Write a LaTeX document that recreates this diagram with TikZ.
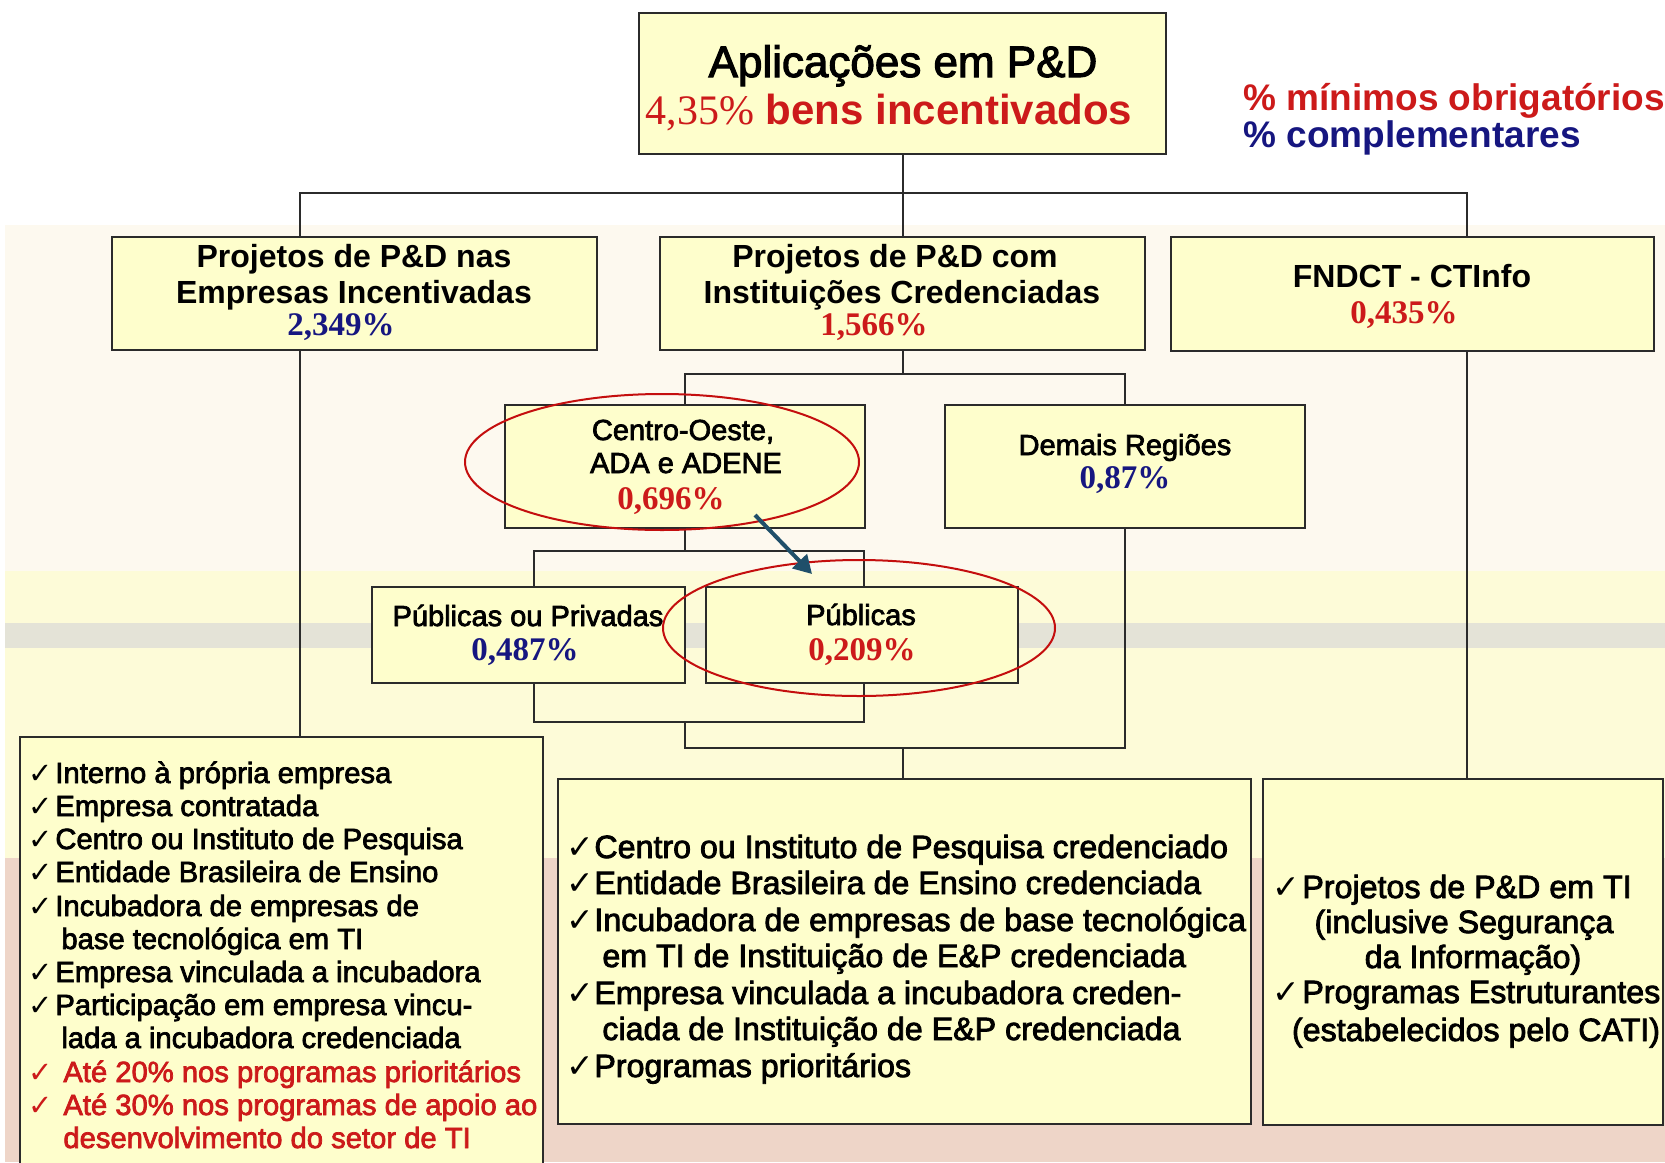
\documentclass[tikz,border=0pt]{standalone}
\usepackage{fontspec}
\setmainfont{Liberation Sans}
\newfontfamily\serf{Liberation Serif}
\newfontfamily\chkf{DejaVu Sans}
\newfontfamily\hvy[FakeBold=2.5]{Liberation Sans}
\usetikzlibrary{arrows.meta,shapes.geometric}
\definecolor{bgcream}{HTML}{FDF9EF}
\definecolor{bgyel}{HTML}{FDFBD8}
\definecolor{bggrey}{HTML}{E4E3D7}
\definecolor{bgpink}{HTML}{EED5C8}
\definecolor{boxfill}{HTML}{FEFECC}
\definecolor{boxline}{HTML}{2B2B2B}
\definecolor{pred}{HTML}{CC1A1A}
\definecolor{pblue}{HTML}{161680}
\definecolor{ellred}{HTML}{C40E0E}
\definecolor{arrcol}{HTML}{1F4F6A}
\begin{document}
\begin{tikzpicture}[x=0.5pt,y=-0.5pt,
  box/.style={draw=boxline, fill=boxfill, line width=1pt, inner sep=0pt},
  wh/.style 2 args={minimum width=#1*0.5pt, minimum height=#2*0.5pt},
  conn/.style={draw=boxline, line width=1pt},
  txt/.style={inner sep=0pt, anchor=base},
  ltxt/.style={inner sep=0pt, anchor=base west},
  head/.style={font=\bfseries\fontsize{16}{19}\selectfont},
  mid/.style={font=\hvy\fontsize{14.5}{17}\selectfont},
  pct/.style={font=\serf\bfseries\fontsize{16.5}{19}\selectfont},
  listL/.style={font=\hvy\fontsize{14.6}{18}\selectfont},
  listM/.style={font=\hvy\fontsize{16.1}{19}\selectfont},
  ell/.style={draw=ellred, line width=1pt, ellipse, inner sep=0pt},
  arr/.style={draw=arrcol, line width=2pt, -{Triangle[length=9pt,width=10pt]}}
]
\useasboundingbox (0,0) rectangle (1665,1162);
% background bands
\fill[white] (0,0) rectangle (1665,1162);
\fill[bgcream] (5,225) rectangle (1665,571);
\fill[bgyel] (5,571) rectangle (1665,858);
\fill[bggrey] (5,623) rectangle (1665,648);
\fill[bgpink] (5,858) rectangle (1665,1162);

% boxes
\node[box, wh={527}{141}] (top) at (902.5,83.5) {};
\node[box, wh={485}{113}] (lft) at (354.5,293.5) {};
\node[box, wh={485}{113}] (mdl) at (902.5,293.5) {};
\node[box, wh={483}{114}] (rgt) at (1412.5,294) {};
\node[box, wh={360}{123}] (co) at (685,466.5) {};
\node[box, wh={360}{123}] (dem) at (1125,466.5) {};
\node[box, wh={313}{96}] (pop) at (528.5,635) {};
\node[box, wh={312}{96}] (pub) at (862,635) {};
\node[box, wh={523}{448}] (lb) at (281.5,961) {};
\node[box, wh={693}{345}] (mb) at (904.5,951.5) {};
\node[box, wh={400}{346}] (rb) at (1463,952) {};

% connector coordinates
\coordinate (hL) at (300,193);
\coordinate (hR) at (1467,193);
\coordinate (j2) at (902.5,374);
\coordinate (j3) at (685,551);
\coordinate (pL) at (534,551);
\coordinate (pR) at (864,551);
\coordinate (k3) at (685,722);
\coordinate (k4) at (903,748);

\draw[conn] (top.south) -- (top.south |- hL);
\draw[conn] (hL |- lft.north) -- (hL) -- (hR) -- (hR |- rgt.north);
\draw[conn] (top.south |- hL) -- (mdl.north);
\draw[conn] (hL |- lft.south) -- (hL |- lb.north);
\draw[conn] (hR |- rgt.south) -- (hR |- rb.north);
\draw[conn] (mdl.south) -- (j2);
\draw[conn] (co.north) |- (j2) -| (dem.north);
\draw[conn] (co.south) -- (j3);
\draw[conn] (pL |- pop.north) -- (pL) -- (pR) -- (pR |- pub.north);
\draw[conn] (pL |- pop.south) -- (pL |- k3) -- (pR |- k3) -- (pR |- pub.south);
\draw[conn] (k3) |- (dem.south |- k4) -- (dem.south);
\draw[conn] (k4) -- (k4 |- mb.north);

% top box text
\node[txt, font=\hvy\fontsize{22}{26}\selectfont] (t1) at (903,77) {Aplicações em P\&D};
\node[txt, font=\fontsize{21}{25}\selectfont, text=pred] (t2) at (889,124)
  {{\serf 4,35\%}\ \textbf{bens incentivados}};
% legend
\node[ltxt, font=\bfseries\fontsize{18.5}{22}\selectfont, text=pred] (lg1) at (1243,110) {\% mínimos obrigatórios};
\node[ltxt, font=\bfseries\fontsize{18.5}{22}\selectfont, text=pblue] (lg2) at (1243,147) {\% complementares};

% level 2 texts
\node[txt, head] (l1) at (354,267) {Projetos de P\&D nas};
\node[txt, head] (l2) at (354,303) {Empresas Incentivadas};
\node[txt, pct, text=pblue] (l3) at (341,335) {2,349\%};
\node[txt, head] (m1) at (895,267) {Projetos de P\&D com};
\node[txt, head] (m2) at (902,303) {Instituições Credenciadas};
\node[txt, pct, text=pred] (m3) at (874,335) {1,566\%};
\node[txt, head] (r1) at (1412,287) {FNDCT - CTInfo};
\node[txt, pct, text=pred] (r2) at (1404,323) {0,435\%};

% level 3 texts
\node[txt, mid] (c1) at (683,440) {Centro-Oeste,};
\node[txt, mid] (c2) at (686,473) {ADA e ADENE};
\node[txt, pct, text=pred] (c3) at (671,509) {0,696\%};
\node[txt, mid] (d1) at (1125,455) {Demais Regiões};
\node[txt, pct, text=pblue] (d2) at (1125,488) {0,87\%};
\node[txt, mid] (p1) at (528,626) {Públicas ou Privadas};
\node[txt, pct, text=pblue] (p2) at (525,660) {0,487\%};
\node[txt, mid] (q1) at (861,625) {Públicas};
\node[txt, pct, text=pred] (q2) at (862,660) {0,209\%};

% highlight ellipses and arrow
\node[ell, wh={394}{136}] (e1) at (662,462) {};
\node[ell, wh={392}{136}] (e2) at (859,628) {};
\coordinate (a1) at (755,515);
\coordinate (a2) at (812,574);
\draw[arr] (a1) -- (a2);

% left list
\foreach \ly/\lx/\lt [count=\i] in {
  783/55/{Interno à própria empresa},
  816/55/{Empresa contratada},
  849/55/{Centro ou Instituto de Pesquisa},
  882/55/{Entidade Brasileira de Ensino},
  916/55/{Incubadora de empresas de},
  949/61/{base tecnológica em TI},
  982/55/{Empresa vinculada a incubadora},
  1015/55/{Participação em empresa vincu-},
  1048/61/{lada a incubadora credenciada}}
  \node[ltxt, listL] (lt\i) at (\lx,\ly) {\lt};
\foreach \ly/\lt [count=\i] in {
  1082/{Até 20\% nos programas prioritários},
  1115/{Até 30\% nos programas de apoio ao},
  1148/{desenvolvimento do setor de TI}}
  \node[ltxt, listL, text=pred] (lr\i) at (63,\ly) {\lt};
\foreach \ly [count=\i] in {783,816,849,882,916,982,1015}
  \node[ltxt, font=\chkf\fontsize{14.5}{16}\selectfont] (lc\i) at (28,\ly) {✓};
\foreach \ly [count=\i] in {1082,1115}
  \node[ltxt, font=\chkf\fontsize{14.5}{16}\selectfont, text=pred] (lrc\i) at (28,\ly) {✓};

% middle list
\foreach \ly/\lx/\lt [count=\i] in {
  858/594/{Centro ou Instituto de Pesquisa credenciado},
  894/594/{Entidade Brasileira de Ensino credenciada},
  931/594/{Incubadora de empresas de base tecnológica},
  967/602/{em TI de Instituição de E\&P credenciada},
  1004/594/{Empresa vinculada a incubadora creden-},
  1040/602/{ciada de Instituição de E\&P credenciada},
  1077/594/{Programas prioritários}}
  \node[ltxt, listM] (mt\i) at (\lx,\ly) {\lt};
\foreach \ly [count=\i] in {858,894,931,1004,1077}
  \node[ltxt, font=\chkf\fontsize{16.5}{18}\selectfont] (mc\i) at (566,\ly) {✓};

% right list
\node[ltxt, listM] (rt1) at (1302,898) {Projetos de P\&D em TI};
\node[txt, listM] (rt2) at (1464,933) {(inclusive Segurança};
\node[txt, listM] (rt3) at (1473,968) {da Informação)};
\node[ltxt, listM] (rt4) at (1302,1003) {Programas Estruturantes};
\node[txt, listM] (rt5) at (1476,1041) {(estabelecidos pelo CATI)};
\node[ltxt, font=\chkf\fontsize{16.5}{18}\selectfont] (rc1) at (1272,898) {✓};
\node[ltxt, font=\chkf\fontsize{16.5}{18}\selectfont] (rc2) at (1272,1003) {✓};
\end{tikzpicture}
\end{document}
